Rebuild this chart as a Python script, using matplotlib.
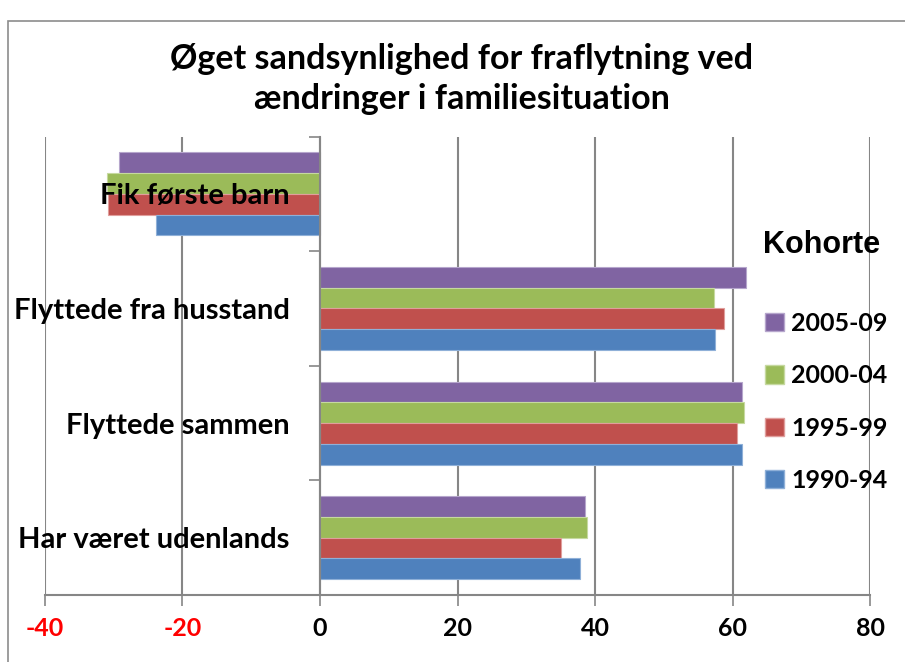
import numpy as np
import matplotlib
matplotlib.use("Agg")
import matplotlib.pyplot as plt
from matplotlib.patches import Rectangle, Patch

# categories from top to bottom
categories = ["Fik første barn", "Flyttede fra husstand",
              "Flyttede sammen", "Har været udenlands"]

# cohort series (values per category, same order)
cohorts = ["2005-09", "2000-04", "1995-99", "1990-94"]
v_2005_09 = [-29.3, 62.0, 61.4, 38.5]
v_2000_04 = [-31.0, 57.3, 61.6, 38.8]
v_1995_99 = [-30.9, 58.8, 60.6, 35.1]
v_1990_94 = [-23.8, 57.5, 61.4, 37.8]
series = [v_2005_09, v_2000_04, v_1995_99, v_1990_94]
colors = ["#8064A2", "#9BBB59", "#C0504D", "#4F81BD"]
edges = ["#B6A6CC", "#C6D9A0", "#E09E9C", "#8FB0D8"]

x_ticks = [-40, -20, 0, 20, 40, 60, 80]

FONT = ["Lato", "DejaVu Sans"]
plt.rcParams["font.family"] = FONT

fig = plt.figure(figsize=(9.05, 6.62), dpi=100, facecolor="white")

# chart frame (runs off the right and bottom edges)
fig.patches.append(Rectangle((8 / 905, -0.05), 1.0, 1 - 21 / 662 + 0.05,
                             transform=fig.transFigure, fill=False,
                             edgecolor="#8C8C8C", linewidth=1.2))

ax = fig.add_axes([45 / 905, 1 - 595 / 662, 825 / 905, (595 - 136.5) / 662])

h = 0.181
y = np.arange(len(categories))
for k, (vals, c, ec) in enumerate(zip(series, colors, edges)):
    ax.barh(y + (k - 1.5) * h, vals, height=h, color=c, edgecolor=ec,
            linewidth=0.8, label=cohorts[k], zorder=2)

ax.set_xlim(-40, 80)
ax.set_ylim(len(categories) - 0.5, -0.5)

ax.set_xticks(x_ticks)
ax.set_xticklabels([str(t) for t in x_ticks], fontsize=18, fontweight="bold")
for lab, t in zip(ax.get_xticklabels(), x_ticks):
    lab.set_color("red" if t < 0 else "black")
ax.tick_params(axis="x", length=8, width=1.2, color="#868686", pad=8)
ax.xaxis.grid(True, color="#868686", linewidth=1.5)
# gridlines behind the bars, category labels in front of them
ax.xaxis.set_zorder(0.5)
ax.yaxis.set_zorder(3)

# category axis sits at x = 0
ax.spines["left"].set_position(("data", 0))
ax.set_yticks(y)
ax.set_yticklabels(categories, fontsize=21, fontweight="bold")
ax.set_yticks(np.arange(len(categories) + 1) - 0.5, minor=True)
ax.tick_params(axis="y", which="major", length=0, pad=22)
ax.tick_params(axis="y", which="minor", length=8, width=1.2, color="#868686")

for s in ["top", "right"]:
    ax.spines[s].set_visible(False)
for s in ["left", "bottom"]:
    ax.spines[s].set_color("#868686")
    ax.spines[s].set_linewidth(1.5)
ax.spines["left"].set_zorder(3)

handles = [Patch(facecolor=c, edgecolor=ec) for c, ec in zip(colors, edges)]
leg = fig.legend(handles, cohorts, loc="upper left",
                 bbox_to_anchor=(765 / 905, 1 - 312 / 662), frameon=False,
                 prop={"family": FONT, "weight": "bold", "size": 18},
                 borderaxespad=0, borderpad=0,
                 handlelength=0.75, handleheight=0.75, handletextpad=0.3,
                 labelspacing=1.17)
fig.text(822 / 905, 1 - 245 / 662, "Kohorte", ha="center", va="center",
         family=["Liberation Sans", "DejaVu Sans"], fontweight="bold", fontsize=22)

fig.text(462 / 905, 1 - 79 / 662,
         "Øget sandsynlighed for fraflytning ved\nændringer i familiesituation",
         ha="center", va="center", fontsize=24.5, fontweight="bold",
         linespacing=1.3)

fig.savefig("out.png", dpi=100, facecolor="white")
